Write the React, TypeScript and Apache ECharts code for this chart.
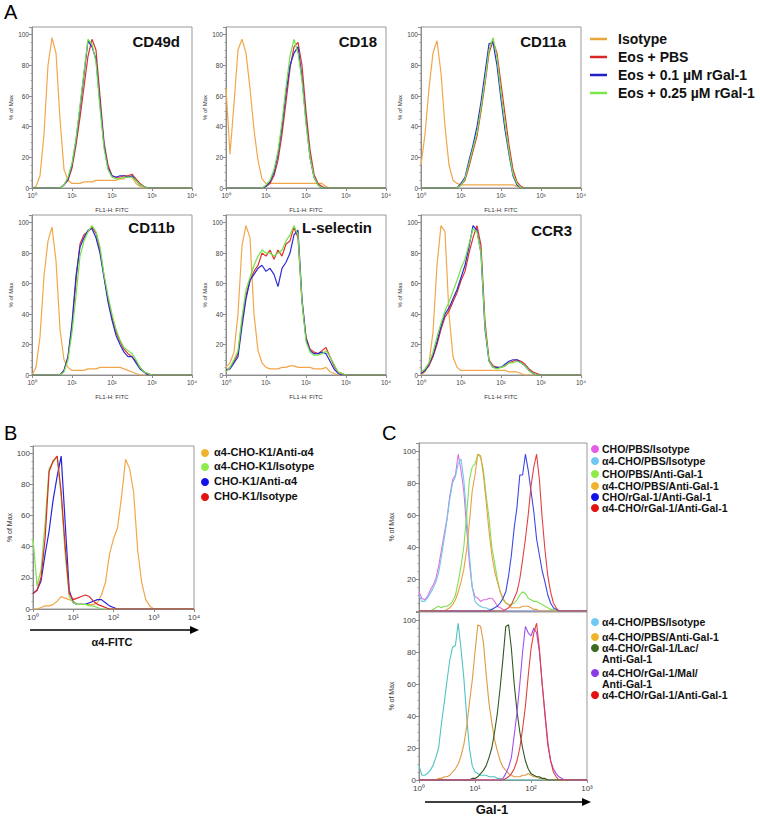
import React, { useEffect, useRef } from "react";
import * as echarts from "echarts";

const FONT = "'Liberation Sans', Arial, Helvetica, sans-serif";

// fluorescence bins, 10 per decade, 10^0 .. 10^4 (panels A, B)
const BINS_A = [1, 1.259, 1.585, 1.995, 2.512, 3.162, 3.981, 5.012, 6.31, 7.943,
  10, 12.59, 15.85, 19.95, 25.12, 31.62, 39.81, 50.12, 63.1, 79.43,
  100, 125.9, 158.5, 199.5, 251.2, 316.2, 398.1, 501.2, 631, 794.3,
  1000, 1259, 1585, 1995, 2512, 3162, 3981, 5012, 6310, 7943, 10000];
// fluorescence bins, 20 per decade, 10^0 .. 10^3 (panel C)
const BINS_C = [1, 1.122, 1.259, 1.413, 1.585, 1.778, 1.995, 2.239, 2.512, 2.818,
  3.162, 3.548, 3.981, 4.467, 5.012, 5.623, 6.31, 7.079, 7.943, 8.913,
  10, 11.22, 12.59, 14.13, 15.85, 17.78, 19.95, 22.39, 25.12, 28.18,
  31.62, 35.48, 39.81, 44.67, 50.12, 56.23, 63.1, 70.79, 79.43, 89.13,
  100, 112.2, 125.9, 141.3, 158.5, 177.8, 199.5, 223.9, 251.2, 281.8,
  316.2, 354.8, 398.1, 446.7, 501.2, 562.3, 631, 707.9, 794.3, 891.3, 1000];

// decade tick labels
const DECADE_LABELS = ["10\u2070", "10\u00b9", "10\u00b2", "10\u00b3", "10\u2074"];

const A_TITLES = ["CD49d", "CD18", "CD11a", "CD11b", "L-selectin", "CCR3"];
const A_LEGEND = ["Isotype", "Eos + PBS", "Eos + 0.1 \u00b5M rGal-1", "Eos + 0.25 \u00b5M rGal-1"];
const A_COLORS = ["#F2A64A", "#E0302E", "#2B2BD6", "#72E346"];
const A_LEGEND_COLORS = ["#EBA43A", "#D82828", "#2020C8", "#78E848"];

// ---- Panel A values (% of max) ----
const CD49D_ISO = [0, 1, 8, 35, 80, 98, 88, 45, 12, 5, 3, 3, 3, 4, 4, 4, 5, 5, 5, 5, 5, 5, 6, 6, 8, 7, 3, 1, 0, 0, 0, 0, 0, 0, 0, 0, 0, 0, 0, 0, 0];
const CD49D_PBS = [0, 0, 0, 0, 0, 0, 0, 0, 2, 5, 13, 28, 46, 66, 86, 97, 90, 60, 30, 15, 8, 7, 7, 8, 8, 9, 6, 3, 1, 0, 0, 0, 0, 0, 0, 0, 0, 0, 0, 0, 0];
const CD49D_G01 = [0, 0, 0, 0, 0, 0, 0, 0, 2, 6, 15, 31, 52, 74, 96, 92, 84, 55, 28, 13, 8, 7, 8, 8, 7, 8, 5, 2, 1, 0, 0, 0, 0, 0, 0, 0, 0, 0, 0, 0, 0];
const CD49D_G025 = [0, 0, 0, 0, 0, 0, 0, 0, 2, 7, 16, 32, 54, 76, 97, 94, 82, 52, 26, 12, 7, 6, 6, 7, 7, 7, 5, 2, 1, 0, 0, 0, 0, 0, 0, 0, 0, 0, 0, 0, 0];

const CD18_ISO = [65, 22, 55, 90, 97, 88, 65, 38, 18, 6, 3, 3, 3, 3, 3, 3, 3, 3, 3, 3, 3, 3, 3, 3, 3, 1, 0, 0, 0, 0, 0, 0, 0, 0, 0, 0, 0, 0, 0, 0, 0];
const CD18_PBS = [0, 0, 0, 0, 0, 0, 0, 0, 0, 0, 1, 3, 8, 18, 35, 56, 78, 92, 95, 80, 50, 25, 9, 3, 1, 0, 0, 0, 0, 0, 0, 0, 0, 0, 0, 0, 0, 0, 0, 0, 0];
const CD18_G01 = [0, 0, 0, 0, 0, 0, 0, 0, 0, 0, 1, 4, 10, 22, 40, 62, 80, 88, 92, 72, 44, 20, 7, 2, 0, 0, 0, 0, 0, 0, 0, 0, 0, 0, 0, 0, 0, 0, 0, 0, 0];
const CD18_G025 = [0, 0, 0, 0, 0, 0, 0, 0, 0, 0, 2, 5, 12, 24, 43, 66, 86, 97, 88, 70, 42, 20, 7, 2, 0, 0, 0, 0, 0, 0, 0, 0, 0, 0, 0, 0, 0, 0, 0, 0, 0];

const CD11A_ISO = [15, 35, 65, 88, 96, 75, 40, 15, 5, 3, 2, 2, 2, 2, 2, 2, 2, 2, 2, 2, 2, 2, 2, 2, 1, 0, 0, 0, 0, 0, 0, 0, 0, 0, 0, 0, 0, 0, 0, 0, 0];
const CD11A_PBS = [0, 0, 0, 0, 0, 0, 0, 0, 0, 0, 2, 5, 14, 24, 34, 50, 68, 88, 96, 88, 68, 48, 28, 12, 4, 1, 0, 0, 0, 0, 0, 0, 0, 0, 0, 0, 0, 0, 0, 0, 0];
const CD11A_G01 = [0, 0, 0, 0, 0, 0, 0, 0, 0, 0, 3, 7, 18, 28, 40, 56, 75, 94, 95, 80, 58, 38, 22, 8, 2, 0, 0, 0, 0, 0, 0, 0, 0, 0, 0, 0, 0, 0, 0, 0, 0];
const CD11A_G025 = [0, 0, 0, 0, 0, 0, 0, 0, 0, 0, 2, 6, 16, 26, 36, 52, 70, 90, 98, 85, 62, 42, 24, 9, 3, 0, 0, 0, 0, 0, 0, 0, 0, 0, 0, 0, 0, 0, 0, 0, 0];

const CD11B_ISO = [0, 5, 25, 65, 88, 97, 75, 30, 10, 5, 3, 3, 3, 3, 4, 4, 4, 5, 5, 5, 5, 5, 5, 4, 3, 2, 1, 0, 0, 0, 0, 0, 0, 0, 0, 0, 0, 0, 0, 0, 0];
const CD11B_PBS = [0, 0, 0, 0, 0, 0, 0, 0, 3, 12, 32, 62, 86, 92, 94, 97, 93, 82, 65, 50, 38, 28, 22, 17, 14, 12, 9, 5, 2, 1, 0, 0, 0, 0, 0, 0, 0, 0, 0, 0, 0];
const CD11B_G01 = [0, 0, 0, 0, 0, 0, 0, 0, 3, 12, 34, 65, 84, 90, 95, 96, 90, 80, 64, 48, 36, 26, 20, 15, 12, 12, 8, 4, 2, 0, 0, 0, 0, 0, 0, 0, 0, 0, 0, 0, 0];
const CD11B_G025 = [0, 0, 0, 0, 0, 0, 0, 0, 2, 10, 28, 52, 78, 88, 94, 98, 94, 84, 66, 52, 40, 30, 23, 18, 16, 14, 10, 5, 2, 1, 0, 0, 0, 0, 0, 0, 0, 0, 0, 0, 0];

const LSEL_ISO = [5, 8, 15, 40, 85, 98, 90, 40, 16, 8, 5, 4, 4, 4, 5, 5, 6, 6, 5, 5, 5, 5, 4, 4, 4, 5, 2, 1, 0, 0, 0, 0, 0, 0, 0, 0, 0, 0, 0, 0, 0];
const LSEL_PBS = [3, 5, 9, 14, 35, 52, 62, 68, 72, 80, 78, 82, 76, 82, 78, 86, 88, 97, 90, 48, 25, 17, 15, 14, 16, 18, 12, 6, 2, 1, 0, 0, 0, 0, 0, 0, 0, 0, 0, 0, 0];
const LSEL_G01 = [3, 4, 8, 12, 32, 50, 62, 66, 70, 72, 68, 70, 66, 58, 70, 74, 80, 92, 95, 50, 24, 16, 14, 14, 15, 14, 9, 4, 1, 0, 0, 0, 0, 0, 0, 0, 0, 0, 0, 0, 0];
const LSEL_G025 = [2, 5, 10, 16, 38, 56, 64, 72, 78, 82, 80, 80, 78, 80, 82, 88, 92, 98, 92, 48, 22, 15, 13, 13, 14, 16, 12, 7, 2, 1, 0, 0, 0, 0, 0, 0, 0, 0, 0, 0, 0];

const CCR3_ISO = [0, 2, 8, 28, 72, 98, 94, 40, 12, 5, 3, 3, 3, 3, 3, 3, 3, 3, 3, 3, 3, 3, 2, 2, 2, 1, 0, 0, 0, 0, 0, 0, 0, 0, 0, 0, 0, 0, 0, 0, 0];
const CCR3_PBS = [1, 3, 6, 12, 20, 30, 38, 42, 48, 54, 62, 68, 80, 90, 98, 85, 35, 10, 6, 5, 5, 6, 8, 9, 10, 9, 7, 4, 2, 1, 0, 0, 0, 0, 0, 0, 0, 0, 0, 0, 0];
const CCR3_G01 = [1, 3, 7, 13, 22, 32, 40, 44, 50, 56, 64, 72, 84, 98, 95, 80, 30, 9, 5, 5, 5, 7, 9, 10, 10, 8, 6, 3, 1, 0, 0, 0, 0, 0, 0, 0, 0, 0, 0, 0, 0];
const CCR3_G025 = [2, 4, 8, 15, 25, 34, 42, 48, 55, 62, 70, 76, 86, 96, 94, 80, 32, 9, 5, 4, 5, 6, 8, 8, 9, 8, 6, 3, 1, 0, 0, 0, 0, 0, 0, 0, 0, 0, 0, 0, 0];

// ---- Panel B ----
const B_LEGEND = ["\u03b14-CHO-K1/Anti-\u03b14", "\u03b14-CHO-K1/Isotype", "CHO-K1/Anti-\u03b14", "CHO-K1/Isotype"];
const B_LEGEND_COLORS = ["#F0B32E", "#8EEB4A", "#1212E8", "#E31212"];
const B_COLORS = ["#F2A64A", "#7EE34E", "#2424E0", "#E02828"];
const B_A4_ANTI = [0, 0, 1, 2, 2, 3, 5, 8, 7, 6, 5, 3, 3, 3, 3, 3, 4, 9, 17, 35, 45, 52, 72, 96, 90, 75, 38, 17, 6, 2, 0, 0, 0, 0, 0, 0, 0, 0, 0, 0, 0];
const B_A4_ISO = [45, 15, 25, 55, 90, 94, 98, 72, 35, 8, 4, 3, 3, 3, 2, 2, 1, 0, 0, 0, 0, 0, 0, 0, 0, 0, 0, 0, 0, 0, 0, 0, 0, 0, 0, 0, 0, 0, 0, 0, 0];
const B_K1_ANTI = [10, 12, 18, 35, 50, 70, 85, 98, 55, 12, 4, 3, 3, 3, 4, 5, 6, 6, 4, 2, 1, 0, 0, 0, 0, 0, 0, 0, 0, 0, 0, 0, 0, 0, 0, 0, 0, 0, 0, 0, 0];
const B_K1_ISO = [10, 12, 20, 45, 88, 95, 98, 75, 40, 10, 6, 7, 8, 9, 8, 5, 3, 2, 1, 0, 0, 0, 0, 0, 0, 0, 0, 0, 0, 0, 0, 0, 0, 0, 0, 0, 0, 0, 0, 0, 0];

// ---- Panel C top ----
const CT_LEGEND = ["CHO/PBS/Isotype", "\u03b14-CHO/PBS/Isotype", "CHO/PBS/Anti-Gal-1", "\u03b14-CHO/PBS/Anti-Gal-1", "CHO/rGal-1/Anti-Gal-1", "\u03b14-CHO/rGal-1/Anti-Gal-1"];
const CT_LEGEND_COLORS = ["#E65CE6", "#6FC9F2", "#8EEB4A", "#F0B32E", "#1212E8", "#E31212"];
const CT_COLORS = ["#E070E0", "#70C8E8", "#80E050", "#E8A040", "#3A48E6", "#E04040"];
const CT_CHO_ISO = [12, 8, 7, 9, 13, 16, 20, 28, 38, 48, 58, 72, 82, 85, 98, 88, 75, 52, 30, 15, 9, 8, 6, 7, 7, 8, 8, 6, 3, 2, 1, 0, 0, 0, 0, 0, 0, 0, 0, 0, 0, 0, 0, 0, 0, 0, 0, 0, 0, 0, 0, 0, 0, 0, 0, 0, 0, 0, 0, 0, 0];
const CT_A4_ISO = [10, 6, 6, 8, 11, 14, 18, 24, 34, 45, 57, 70, 80, 84, 92, 95, 82, 60, 35, 15, 6, 4, 3, 2, 2, 1, 1, 0, 0, 0, 0, 0, 0, 0, 0, 0, 0, 0, 0, 0, 0, 0, 0, 0, 0, 0, 0, 0, 0, 0, 0, 0, 0, 0, 0, 0, 0, 0, 0, 0, 0];
const CT_CHO_ANTI = [0, 0, 0, 0, 0, 1, 2, 3, 2, 3, 3, 4, 6, 10, 18, 28, 40, 60, 82, 90, 92, 98, 96, 88, 72, 58, 40, 30, 20, 12, 7, 5, 4, 4, 5, 7, 10, 12, 11, 8, 7, 6, 6, 5, 4, 3, 2, 1, 1, 0, 0, 0, 0, 0, 0, 0, 0, 0, 0, 0, 0];
const CT_A4_ANTI = [0, 0, 0, 0, 0, 0, 0, 0, 0, 0, 1, 2, 4, 7, 12, 18, 26, 38, 55, 75, 85, 98, 97, 85, 68, 50, 35, 25, 18, 12, 8, 5, 4, 2, 2, 2, 2, 3, 3, 3, 2, 1, 1, 0, 0, 0, 0, 0, 0, 0, 0, 0, 0, 0, 0, 0, 0, 0, 0, 0, 0];
const CT_CHO_RGAL = [0, 0, 0, 0, 0, 0, 0, 0, 0, 0, 0, 0, 0, 0, 0, 0, 0, 0, 0, 0, 0, 0, 0, 0, 0, 0, 1, 2, 3, 5, 8, 12, 22, 35, 52, 65, 85, 85, 98, 88, 75, 62, 45, 35, 25, 18, 10, 5, 2, 1, 0, 0, 0, 0, 0, 0, 0, 0, 0, 0, 0];
const CT_A4_RGAL = [0, 0, 0, 0, 0, 0, 0, 0, 0, 0, 0, 0, 0, 0, 0, 0, 0, 0, 0, 0, 0, 0, 0, 0, 0, 0, 0, 0, 0, 0, 0, 1, 2, 4, 8, 12, 20, 32, 45, 60, 78, 90, 98, 82, 58, 38, 22, 12, 5, 2, 0, 0, 0, 0, 0, 0, 0, 0, 0, 0, 0];

// ---- Panel C bottom ----
const CB_LEGEND = [["\u03b14-CHO/PBS/Isotype"], ["\u03b14-CHO/PBS/Anti-Gal-1"], ["\u03b14-CHO/rGal-1/Lac/", "Anti-Gal-1"], ["\u03b14-CHO/rGal-1/Mal/", "Anti-Gal-1"], ["\u03b14-CHO/rGal-1/Anti-Gal-1"]];
const CB_LEGEND_COLORS = ["#6FC9F2", "#F0B32E", "#3D6B1F", "#8C3CE6", "#E31212"];
const CB_COLORS = ["#4FC4C4", "#E09A40", "#2F5A22", "#A050F0", "#E04040"];
const CB_A4_ISO = [9, 3, 3, 4, 6, 9, 14, 20, 35, 48, 62, 75, 83, 84, 98, 82, 64, 40, 20, 9, 5, 4, 3, 3, 3, 2, 2, 2, 1, 1, 0, 0, 0, 0, 0, 0, 0, 0, 0, 0, 0, 0, 0, 0, 0, 0, 0, 0, 0, 0, 0, 0, 0, 0, 0, 0, 0, 0, 0, 0, 0];
const CB_A4_ANTI = [0, 0, 0, 0, 0, 0, 0, 1, 1, 2, 2, 3, 5, 7, 10, 15, 22, 33, 48, 62, 80, 97, 96, 86, 66, 48, 36, 25, 18, 12, 8, 6, 4, 3, 2, 2, 2, 3, 3, 4, 3, 2, 2, 1, 1, 0, 0, 0, 0, 0, 0, 0, 0, 0, 0, 0, 0, 0, 0, 0, 0];
const CB_LAC = [0, 0, 0, 0, 0, 0, 0, 0, 0, 0, 0, 0, 0, 0, 0, 0, 0, 0, 0, 1, 1, 2, 4, 6, 9, 14, 20, 30, 42, 58, 76, 96, 97, 82, 60, 43, 30, 20, 12, 7, 4, 3, 2, 2, 1, 1, 0, 0, 0, 0, 0, 0, 0, 0, 0, 0, 0, 0, 0, 0, 0];
const CB_MAL = [0, 0, 0, 0, 0, 0, 0, 0, 0, 0, 0, 0, 0, 0, 0, 0, 0, 0, 0, 0, 0, 0, 0, 0, 0, 0, 0, 0, 0, 0, 1, 4, 8, 14, 28, 42, 60, 80, 96, 92, 90, 95, 92, 80, 60, 42, 24, 12, 7, 4, 2, 1, 0, 0, 0, 0, 0, 0, 0, 0, 0];
const CB_RGAL = [0, 0, 0, 0, 0, 0, 0, 0, 0, 0, 0, 0, 0, 0, 0, 0, 0, 0, 0, 0, 0, 0, 0, 0, 0, 0, 0, 0, 0, 0, 0, 1, 2, 4, 7, 12, 20, 32, 46, 65, 82, 92, 98, 82, 60, 40, 22, 12, 5, 2, 0, 0, 0, 0, 0, 0, 0, 0, 0, 0, 0];

const A_DATA = [
  [CD49D_ISO, CD49D_PBS, CD49D_G01, CD49D_G025],
  [CD18_ISO, CD18_PBS, CD18_G01, CD18_G025],
  [CD11A_ISO, CD11A_PBS, CD11A_G01, CD11A_G025],
  [CD11B_ISO, CD11B_PBS, CD11B_G01, CD11B_G025],
  [LSEL_ISO, LSEL_PBS, LSEL_G01, LSEL_G025],
  [CCR3_ISO, CCR3_PBS, CCR3_G01, CCR3_G025],
];

function xLogAxis(gi: number, max: number, fs: number, show: boolean, name = "", nameGap = 19) {
  return {
    type: "log", logBase: 10, min: 1, max, gridIndex: gi,
    axisLine: { show: true, onZero: false, lineStyle: { color: "#8c8c8c", width: 1 } },
    axisTick: { show: show, length: 3, lineStyle: { color: "#8c8c8c" } },
    minorTick: { show: false },
    splitLine: { show: false },
    axisLabel: show
      ? {
          show: true, margin: 4, color: "#444", fontFamily: FONT, fontSize: fs,
          formatter: (v: number) => DECADE_LABELS[Math.round(Math.log10(v))] || "",
        }
      : { show: false },
    name, nameLocation: "middle", nameGap,
    nameTextStyle: { fontSize: 6, color: "#333", fontFamily: FONT },
  };
}

function yPctAxis(gi: number, max: number, fs: number, nameGap: number, nameFs: number, hideZero = false) {
  return {
    type: "value", min: 0, max, interval: 20, gridIndex: gi,
    axisLine: { show: true, lineStyle: { color: "#8c8c8c" } },
    axisTick: { show: true, length: 3, lineStyle: { color: "#8c8c8c" } },
    minorTick: { show: true, splitNumber: 4, length: 1.5, lineStyle: { color: "#a0a0a0" } },
    splitLine: { show: false },
    axisLabel: {
      margin: 3, fontSize: fs, color: "#444", fontFamily: FONT,
      formatter: (v: number) => (v % 20 === 0 && !(hideZero && v === 0) ? String(v) : ""),
    },
    name: "% of Max", nameLocation: "middle", nameRotate: 90, nameGap,
    nameTextStyle: { fontSize: nameFs, color: "#333", fontFamily: FONT },
  };
}

function lineSeries(gi: number, bins: number[], vals: number[], color: string, width = 1.2) {
  return {
    type: "line", xAxisIndex: gi, yAxisIndex: gi,
    data: bins.map((b, i) => [b, vals[i]]),
    showSymbol: false, symbol: "none", silent: true,
    lineStyle: { color, width }, itemStyle: { color },
  };
}

function txt(x: number, y: number, text: string, font: string, align = "left", fill = "#111") {
  return {
    type: "text", x, y, silent: true,
    style: { text, font, fill, textAlign: align, align, textVerticalAlign: "middle", verticalAlign: "middle" },
  };
}

function buildOption() {
  const grid: any[] = [];
  const xAxis: any[] = [];
  const yAxis: any[] = [];
  const series: any[] = [];
  const graphic: any[] = [];
  const gridBase = { show: true, borderColor: "#999", borderWidth: 1, backgroundColor: "transparent", containLabel: false, outerBoundsMode: "none" };

  // Panel A
  const aLeft = [32, 226, 421];
  const aTop = [27, 215];
  const aHeight = [161, 160];
  const titlePos = [[180, 41], [377, 41], [566, 41], [175, 227], [372, 227], [572, 230]];
  A_DATA.forEach((curves, k) => {
    const row = Math.floor(k / 3);
    const col = k % 3;
    const gi = grid.length;
    grid.push({ ...gridBase, left: aLeft[col], top: aTop[row], width: 160, height: aHeight[row] });
    xAxis.push(xLogAxis(gi, 10000, 6.5, true, "FL1-H: FITC", 19));
    yAxis.push(yPctAxis(gi, 105, 6.5, 16, 6));
    curves.forEach((vals, j) => series.push(lineSeries(gi, BINS_A, vals, A_COLORS[j], 1.2)));
    graphic.push(txt(titlePos[k][0], titlePos[k][1], A_TITLES[k], `bold 15px ${FONT}`, "right"));
  });
  const aLegY = [39, 57, 75, 93];
  A_LEGEND.forEach((name, j) => {
    graphic.push({ type: "line", silent: true, shape: { x1: 590, y1: aLegY[j], x2: 607, y2: aLegY[j] }, style: { stroke: A_LEGEND_COLORS[j], lineWidth: 2.5 } });
    graphic.push(txt(618, aLegY[j], name, `bold 14px ${FONT}`));
  });

  // Panel B
  const gB = grid.length;
  grid.push({ ...gridBase, left: 33, top: 446, width: 161, height: 163 });
  xAxis.push(xLogAxis(gB, 10000, 8, true));
  yAxis.push(yPctAxis(gB, 104.5, 8, 20, 7));
  [B_A4_ANTI, B_K1_ANTI, B_A4_ISO, B_K1_ISO].forEach((vals, j) => {
    const ci = [0, 2, 1, 3][j];
    series.push(lineSeries(gB, BINS_A, vals, B_COLORS[ci], 1.2));
  });
  const bLegY = [452, 466, 481, 496];
  B_LEGEND.forEach((name, j) => {
    graphic.push({ type: "circle", silent: true, shape: { cx: 205, cy: bLegY[j] + 1, r: 4 }, style: { fill: B_LEGEND_COLORS[j] } });
    graphic.push(txt(214, bLegY[j], name, `bold 11px ${FONT}`));
  });
  graphic.push({ type: "line", silent: true, shape: { x1: 30, y1: 630, x2: 192, y2: 630 }, style: { stroke: "#000", lineWidth: 1.5 } });
  graphic.push({ type: "polygon", silent: true, shape: { points: [[190, 626], [199, 630], [190, 634]] }, style: { fill: "#000" } });
  graphic.push(txt(112, 642, "\u03b14-FITC", `bold 11px ${FONT}`, "center"));

  // Panel C top
  const gCT = grid.length;
  grid.push({ ...gridBase, left: 419, top: 443, width: 168, height: 168 });
  xAxis.push(xLogAxis(gCT, 1000, 8, false));
  yAxis.push(yPctAxis(gCT, 105, 8, 24, 7, true));
  [CT_CHO_ISO, CT_A4_ISO, CT_CHO_ANTI, CT_A4_ANTI, CT_CHO_RGAL, CT_A4_RGAL].forEach((vals, j) =>
    series.push(lineSeries(gCT, BINS_C, vals, CT_COLORS[j], 1.1)));
  const ctLegY = [449, 461, 474, 486, 497, 508];
  CT_LEGEND.forEach((name, j) => {
    graphic.push({ type: "circle", silent: true, shape: { cx: 595, cy: ctLegY[j], r: 4 }, style: { fill: CT_LEGEND_COLORS[j] } });
    graphic.push(txt(602, ctLegY[j], name, `bold 10.5px ${FONT}`));
  });

  // Panel C bottom
  const gCB = grid.length;
  grid.push({ ...gridBase, left: 419, top: 612, width: 168, height: 168 });
  xAxis.push(xLogAxis(gCB, 1000, 8, true));
  yAxis.push(yPctAxis(gCB, 105, 8, 24, 7));
  [CB_A4_ISO, CB_A4_ANTI, CB_LAC, CB_MAL, CB_RGAL].forEach((vals, j) =>
    series.push(lineSeries(gCB, BINS_C, vals, CB_COLORS[j], 1.1)));
  const cbLegY = [[622], [637], [648, 659], [673, 684], [695]];
  CB_LEGEND.forEach((lines, j) => {
    graphic.push({ type: "circle", silent: true, shape: { cx: 595, cy: cbLegY[j][0], r: 4 }, style: { fill: CB_LEGEND_COLORS[j] } });
    lines.forEach((ln, m) => graphic.push(txt(602, cbLegY[j][m], ln, `bold 10.5px ${FONT}`)));
  });
  graphic.push({ type: "line", silent: true, shape: { x1: 425, y1: 802, x2: 583, y2: 802 }, style: { stroke: "#000", lineWidth: 1.5 } });
  graphic.push({ type: "polygon", silent: true, shape: { points: [[582, 798], [591, 802], [582, 806]] }, style: { fill: "#000" } });
  graphic.push(txt(492, 809, "Gal-1", `bold 13px ${FONT}`, "center"));

  // panel letters
  graphic.push({ type: "text", x: 4, y: 2, silent: true, style: { text: "A", font: `20px ${FONT}`, fill: "#000" } });
  graphic.push({ type: "text", x: 4, y: 423, silent: true, style: { text: "B", font: `20px ${FONT}`, fill: "#000" } });
  graphic.push({ type: "text", x: 382, y: 423, silent: true, style: { text: "C", font: `20px ${FONT}`, fill: "#000" } });

  return { animation: false, backgroundColor: "#fff", grid, xAxis, yAxis, series, graphic };
}

export default function App() {
  const ref = useRef<HTMLDivElement>(null);
  useEffect(() => {
    if (!ref.current) return;
    const chart = echarts.init(ref.current, null, { renderer: "svg", width: 760, height: 816 });
    chart.setOption(buildOption() as any);
    return () => chart.dispose();
  }, []);
  return <div ref={ref} style={{ position: "absolute", left: 0, top: 0, width: 760, height: 816 }} />;
}
